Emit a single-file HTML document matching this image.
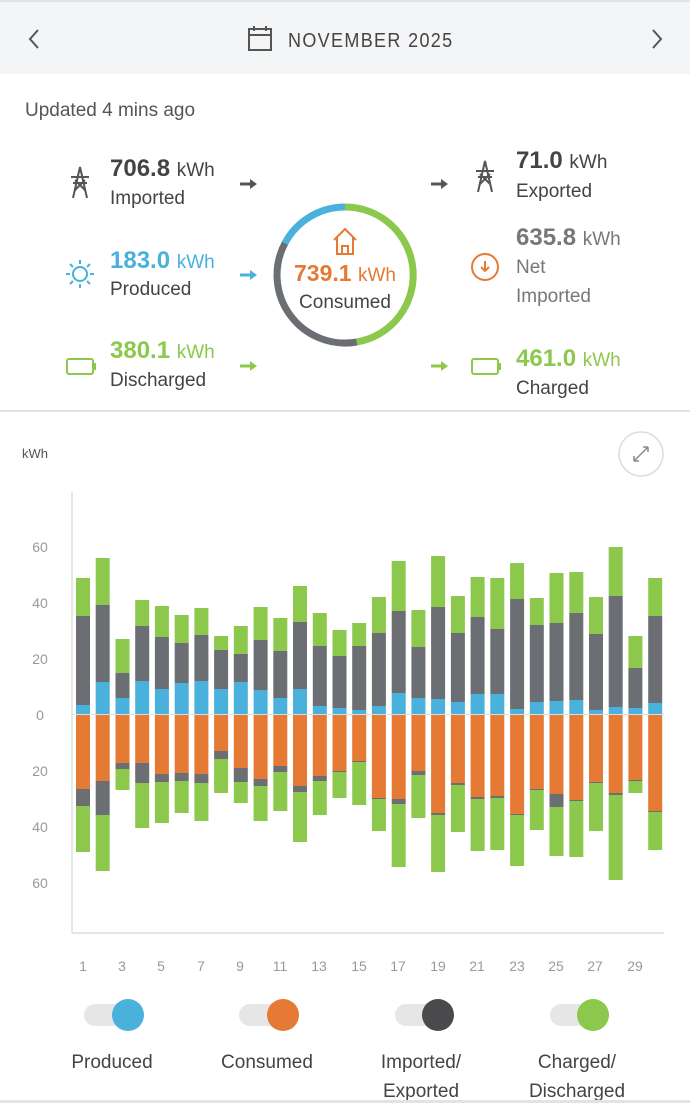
<!DOCTYPE html>
<html><head><meta charset="utf-8"><style>
html,body{margin:0;padding:0;background:#fff;width:690px;height:1103px;overflow:hidden;font-family:"Liberation Sans",sans-serif}
svg{display:block}
</style></head><body>
<svg id="s" width="690" height="1103" viewBox="0 0 690 1103" xmlns="http://www.w3.org/2000/svg" font-family="Liberation Sans, sans-serif">
<rect x="0" y="0" width="690" height="74" fill="#f4f5f7"/>
<rect x="0" y="0" width="690" height="2" fill="#e2e3e6"/>
<path d="M38 30 L30 39 L38 48" fill="none" stroke="#555" stroke-width="2"/>
<path d="M653 30 L661 39 L653 48" fill="none" stroke="#555" stroke-width="2"/>
<rect x="249" y="29" width="22" height="21" fill="none" stroke="#555" stroke-width="2"/>
<line x1="249" y1="35" x2="271" y2="35" stroke="#555" stroke-width="2"/>
<line x1="254" y1="26" x2="254" y2="31" stroke="#555" stroke-width="2"/>
<line x1="266" y1="26" x2="266" y2="31" stroke="#555" stroke-width="2"/>
<text x="288" y="47" font-size="20" fill="#444" letter-spacing="1.5" transform="scale(0.9,1)" transform-origin="288 47">NOVEMBER 2025</text>
<text x="25" y="116" font-size="19" fill="#555">Updated 4 mins ago</text>
<defs>
<g id="arr"><path d="M0 0 H12" stroke-width="3"/><path d="M10 -5 L17 0 L10 5 Z" stroke="none"/></g>
</defs>
<!-- left column -->
<g fill="none" stroke="#555" stroke-width="2"><path d="M73 198 L80 167 L87 198 M75 190 L85 180 M85 190 L75 180 M71 177 L89 177 M73 183 L87 183"/></g>
<text x="110" y="176" font-size="24" fill="#444" font-weight="bold">706.8 <tspan font-size="19" font-weight="normal">kWh</tspan></text>
<text x="110" y="204" font-size="19" fill="#444">Imported</text>
<use href="#arr" x="240" y="184" stroke="#555" fill="#555"/>
<g stroke="#4ab0dc" stroke-width="2" fill="none"><circle cx="80" cy="274" r="7"/><path d="M80 260v4M80 284v4M66 274h4M90 274h4M70 264l3 3M87 281l3 3M70 284l3 -3M87 267l3 -3"/></g>
<text x="110" y="268" font-size="24" fill="#4ab0dc" font-weight="bold">183.0 <tspan font-size="19" font-weight="normal">kWh</tspan></text>
<text x="110" y="295" font-size="19" fill="#444">Produced</text>
<use href="#arr" x="240" y="275" stroke="#4ab0dc" fill="#4ab0dc"/>
<rect x="67" y="359" width="26" height="15" rx="2" fill="none" stroke="#8cc84b" stroke-width="2"/><rect x="93" y="363" width="3" height="7" fill="#8cc84b"/>
<text x="110" y="358" font-size="24" fill="#8cc84b" font-weight="bold">380.1 <tspan font-size="19" font-weight="normal">kWh</tspan></text>
<text x="110" y="386" font-size="19" fill="#444">Discharged</text>
<use href="#arr" x="240" y="366" stroke="#8cc84b" fill="#8cc84b"/>
<!-- right column -->
<use href="#arr" x="431" y="184" stroke="#555" fill="#555"/>
<g fill="none" stroke="#555" stroke-width="2"><path d="M478 192 L485 161 L492 192 M480 184 L490 174 M490 184 L480 174 M476 171 L494 171 M478 177 L492 177"/></g>
<text x="516" y="168" font-size="24" fill="#444" font-weight="bold">71.0 <tspan font-size="19" font-weight="normal">kWh</tspan></text>
<text x="516" y="197" font-size="19" fill="#444">Exported</text>
<circle cx="485" cy="267" r="13" fill="none" stroke="#e57a35" stroke-width="2"/><path d="M485 261v10M481 267l4 4 4-4" fill="none" stroke="#e57a35" stroke-width="2"/>
<text x="516" y="245" font-size="24" fill="#777" font-weight="bold">635.8 <tspan font-size="19" font-weight="normal">kWh</tspan></text>
<text x="516" y="273" font-size="19" fill="#777">Net</text>
<text x="516" y="302" font-size="19" fill="#777">Imported</text>
<use href="#arr" x="431" y="366" stroke="#8cc84b" fill="#8cc84b"/>
<rect x="472" y="359" width="26" height="15" rx="2" fill="none" stroke="#8cc84b" stroke-width="2"/><rect x="498" y="363" width="3" height="7" fill="#8cc84b"/>
<text x="516" y="366" font-size="24" fill="#8cc84b" font-weight="bold">461.0 <tspan font-size="19" font-weight="normal">kWh</tspan></text>
<text x="516" y="394" font-size="19" fill="#444">Charged</text>
<!-- ring -->
<g id="ring" fill="none" stroke-width="7"></g>
<path d="M334 240 L345 229 L356 240 M337 237 V254 H353 V237 M342 254 V246 H348 V254" fill="none" stroke="#e57a35" stroke-width="2"/>
<text x="345" y="281" font-size="23" fill="#e57a35" font-weight="bold" text-anchor="middle">739.1 <tspan font-size="19" font-weight="normal">kWh</tspan></text>
<text x="345" y="308" font-size="19" fill="#444" text-anchor="middle">Consumed</text>
<rect x="0" y="410" width="690" height="2" fill="#e2e3e6"/>
<!-- chart -->
<text x="22" y="458" font-size="13" fill="#555">kWh</text>
<circle cx="641" cy="454" r="22" fill="#fff" stroke="#ddd" stroke-width="1.5"/>
<path d="M634 461 L648 447 M634 461 v-5 M634 461 h5 M648 447 v5 M648 447 h-5" fill="none" stroke="#888" stroke-width="1.5"/>
<line x1="72" y1="492" x2="72" y2="933" stroke="#ddd" stroke-width="1.5"/>
<line x1="72" y1="933" x2="664" y2="933" stroke="#ddd" stroke-width="1.5"/>
<line x1="72" y1="714.5" x2="664" y2="714.5" stroke="#ddd" stroke-width="1"/>
<g font-size="14" fill="#999" text-anchor="middle">
<text x="40" y="552">60</text><text x="40" y="608">40</text><text x="40" y="664">20</text><text x="40" y="720">0</text>
<text x="40" y="776">20</text><text x="40" y="832">40</text><text x="40" y="888">60</text>
</g>
<g id="bars"></g>
<g font-size="14" fill="#999" text-anchor="middle" id="xl">
<text x="83" y="971">1</text><text x="122" y="971">3</text><text x="161" y="971">5</text><text x="201" y="971">7</text><text x="240" y="971">9</text><text x="280" y="971">11</text><text x="319" y="971">13</text><text x="359" y="971">15</text><text x="398" y="971">17</text><text x="438" y="971">19</text><text x="477" y="971">21</text><text x="517" y="971">23</text><text x="556" y="971">25</text><text x="595" y="971">27</text><text x="635" y="971">29</text>
</g>
<!-- legend -->
<g>
<rect x="84" y="1004" width="50" height="22" rx="11" fill="#e6e6e6"/><ellipse cx="128" cy="1015" rx="16" ry="16" fill="#4ab0dc"/>
<rect x="239" y="1004" width="50" height="22" rx="11" fill="#e6e6e6"/><ellipse cx="283" cy="1015" rx="16" ry="16" fill="#e57a35"/>
<rect x="395" y="1004" width="50" height="22" rx="11" fill="#e6e6e6"/><ellipse cx="438" cy="1015" rx="16" ry="16" fill="#4a4a4c"/>
<rect x="550" y="1004" width="50" height="22" rx="11" fill="#e6e6e6"/><ellipse cx="593" cy="1015" rx="16" ry="16" fill="#8cc84b"/>
<g font-size="19" fill="#444" text-anchor="middle">
<text x="112" y="1068">Produced</text><text x="267" y="1068">Consumed</text>
<text x="421" y="1068">Imported/</text><text x="421" y="1097">Exported</text>
<text x="577" y="1068">Charged/</text><text x="577" y="1097">Discharged</text>
</g>
</g>
<rect x="0" y="1100" width="690" height="3" fill="#e2e3e6"/>
</svg>
<script>
var up=[[705,616,578],[682,605,558],[698,673,639],[681,626,600],[689,637,606],[683,643,615],[681,635,608],[689,650,636],[682,654,626],[690,640,607],[698,651,618],[689,622,586],[706,646,613],[708,656,630],[710,646,623],[706,633,597],[693,611,561],[698,647,610],[699,607,556],[702,633,596],[694,617,577],[694,629,578],[709,599,563],[702,625,598],[701,623,573],[700,613,572],[710,634,597],[707,596,547],[708,668,636],[703,616,578]];
var dn=[[789,806,852],[781,815,871],[763,769,790],[763,783,828],[774,782,823],[773,781,813],[774,783,821],[751,759,793],[768,782,803],[779,786,821],[766,772,811],[786,792,842],[776,781,815],[771,772,798],[761,762,805],[798,799,831],[799,804,867],[771,775,818],[813,815,872],[783,785,832],[797,799,851],[796,798,850],[814,815,866],[789,790,830],[794,807,856],[800,801,857],[782,783,831],[793,795,880],[780,781,793],[811,812,850]];
var B='#4ab0dc',G='#6b6e72',Gr='#8cc84b',O='#e57a35',h='';
function r(x,y1,y2,c){if(y2>y1)h+='<rect x="'+x+'" y="'+y1+'" width="14" height="'+(y2-y1)+'" fill="'+c+'"/>';}
for(var i=0;i<30;i++){var x=(76+i*19.73).toFixed(1),u=up[i],d=dn[i];
r(x,u[0],714,B);r(x,u[1],u[0],G);r(x,u[2],u[1],Gr);
r(x,715,d[0],O);r(x,d[0],d[1],G);r(x,d[1],d[2],Gr);}
document.getElementById('bars').innerHTML=h;
function arc(a0,a1,c){var cx=345,cy=275,R=68;function p(a){a=(a-90)*Math.PI/180;return (cx+R*Math.cos(a)).toFixed(1)+' '+(cy+R*Math.sin(a)).toFixed(1);}
return '<path d="M'+p(a0)+' A'+R+' '+R+' 0 '+((a1-a0)>180?1:0)+' 1 '+p(a1)+'" stroke="'+c+'"/>';}
document.getElementById('ring').innerHTML=arc(0,170,Gr)+arc(170,298,G)+arc(298,360,B);
</script>
</body></html>
